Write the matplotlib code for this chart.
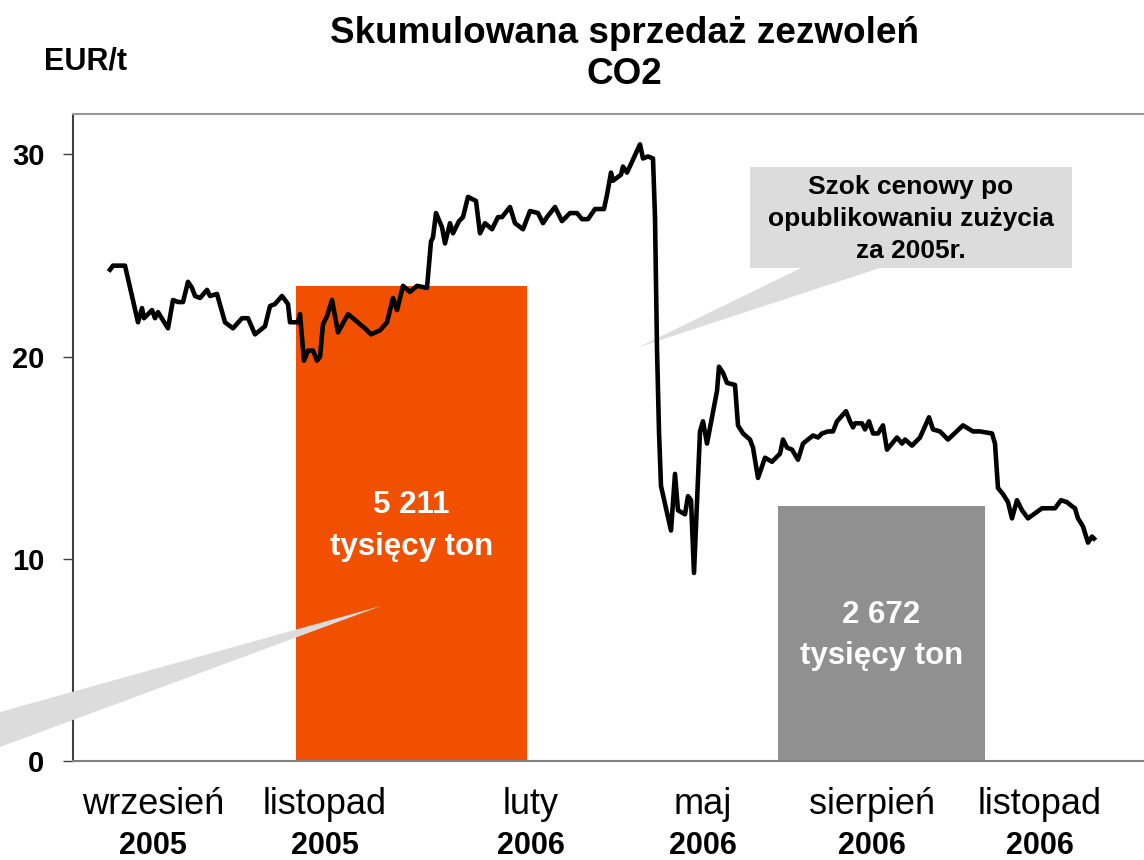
import matplotlib
matplotlib.use("Agg")
import matplotlib.pyplot as plt
from matplotlib.patches import Polygon, Rectangle
from matplotlib.transforms import blended_transform_factory

plt.rcParams['font.family'] = ['Liberation Sans', 'DejaVu Sans']

# Cena uprawnien EUR/t (os x: kolejne notowania, skala umowna)
dzien = [3.7, 4.0, 4.9, 5.2, 6.5, 6.9, 7.1, 7.9, 8.2, 8.5,
         9.5, 10.0, 10.5, 11.0, 11.5, 11.9, 12.2, 12.7, 13.4, 13.7,
         14.4, 15.2, 16.0, 16.9, 17.5, 18.2, 19.2, 19.7, 20.2, 20.9,
         21.5, 21.7, 22.5, 22.7, 23.1, 23.5, 24.0, 24.4, 24.7, 25.0,
         25.4, 25.9, 26.5, 27.5, 28.0, 28.7, 29.2, 29.8, 30.7, 31.4,
         32.0, 32.4, 33.0, 33.7, 34.4, 35.4, 35.8, 36.0, 36.3, 36.9,
         37.2, 37.7, 38.0, 38.6, 39.0, 39.5, 40.3, 40.7, 41.2, 41.9,
         42.5, 42.9, 43.7, 44.2, 45.0, 45.7, 46.5, 47.0, 47.4, 48.2,
         48.9, 49.7, 50.4, 50.9, 51.5, 52.2, 53.1, 53.4, 53.8, 54.0,
         54.8, 55.0, 55.4, 56.7, 57.0, 57.5, 58.0, 58.2, 58.4, 58.6,
         58.8, 59.8, 60.2, 60.5, 61.2, 61.5, 61.8, 62.1, 62.7, 63.0,
         63.4, 64.4, 64.6, 65.0, 65.4, 66.2, 66.5, 67.0, 67.7, 68.0,
         68.5, 69.2, 69.9, 70.7, 71.0, 71.4, 71.9, 72.5, 73.0, 74.0,
         74.5, 74.9, 75.5, 76.0, 76.4, 77.3, 77.7, 78.0, 78.2, 78.9,
         79.2, 79.6, 80.0, 80.5, 81.0, 81.4, 82.4, 82.9, 83.2, 83.9,
         84.7, 85.6, 86.0, 86.7, 87.5, 89.0, 90.0, 90.7, 91.9, 92.2,
         92.5, 93.0, 93.5, 93.9, 94.4, 94.9, 95.5, 96.9, 98.2, 98.8,
         99.4, 99.9, 100.2, 100.5, 101.0, 101.5, 101.9, 102.1]
cena = [24.3, 24.5, 24.5, 24.5, 21.7, 22.4, 21.9, 22.3, 21.9, 22.2,
        21.4, 22.8, 22.7, 22.7, 23.7, 23.4, 23.0, 22.9, 23.3, 23.0,
        23.1, 21.7, 21.4, 21.9, 21.9, 21.1, 21.5, 22.5, 22.6, 23.0,
        22.6, 21.7, 21.7, 22.1, 19.8, 20.3, 20.3, 19.8, 20.0, 21.6,
        22.0, 22.8, 21.2, 22.1, 21.9, 21.6, 21.4, 21.1, 21.3, 21.7,
        22.9, 22.3, 23.5, 23.2, 23.5, 23.4, 25.7, 25.9, 27.1, 26.4,
        25.6, 26.6, 26.1, 26.7, 26.9, 27.9, 27.7, 26.1, 26.6, 26.3,
        26.9, 26.9, 27.4, 26.6, 26.3, 27.2, 27.1, 26.6, 26.9, 27.4,
        26.7, 27.1, 27.1, 26.8, 26.8, 27.3, 27.3, 28.0, 29.1, 28.7,
        29.0, 29.4, 29.1, 30.5, 29.8, 29.9, 29.8, 26.9, 20.4, 16.3,
        13.6, 11.4, 14.2, 12.4, 12.2, 13.1, 12.9, 9.3, 16.3, 16.8,
        15.7, 18.3, 19.5, 19.2, 18.7, 18.6, 16.6, 16.2, 15.9, 15.5,
        14.0, 15.0, 14.8, 15.2, 15.9, 15.5, 15.4, 14.9, 15.7, 16.1,
        16.0, 16.2, 16.3, 16.3, 16.8, 17.3, 16.8, 16.5, 16.7, 16.7,
        16.4, 16.8, 16.2, 16.2, 16.6, 15.4, 16.0, 15.7, 15.9, 15.6,
        16.0, 17.0, 16.4, 16.3, 15.9, 16.6, 16.3, 16.3, 16.2, 15.7,
        13.5, 13.2, 12.8, 12.0, 12.9, 12.4, 12.0, 12.5, 12.5, 12.9,
        12.8, 12.6, 12.5, 12.0, 11.6, 10.8, 11.1, 11.0]

# Sprzedaz skumulowana (slupki)
slupki_x = [22.3, 70.5]
slupki_szer = [23.1, 20.7]
slupki_wys = [23.5, 12.6]
slupki_kolor = ['#F05000', '#909090']
slupki_opis = ['5 211\ntysięcy ton', '2 672\ntysięcy ton']
slupki_opis_y = [11.63, 6.2]

# Etykiety osi x
miesiace = ['wrzesień', 'listopad', 'luty', 'maj', 'sierpień', 'listopad']
lata = ['2005', '2005', '2006', '2006', '2006', '2006']
etykiety_x = [8.0, 25.2, 45.8, 63.0, 79.9, 96.7]

W, H = 1144, 860
fig = plt.figure(figsize=(W / 100, H / 100), dpi=100)
ax = fig.add_axes([73 / W, 1 - 761 / H, 1 - 73 / W, (761 - 114) / H])


def px(x, y):
    return (x / W, 1 - y / H)


for x0, w, h, c in zip(slupki_x, slupki_szer, slupki_wys, slupki_kolor):
    ax.bar(x0, h, width=w, align='edge', color=c, zorder=1)
for x0, w, t, y in zip(slupki_x, slupki_szer, slupki_opis, slupki_opis_y):
    ax.text(x0 + w / 2, y, t, ha='center', va='center', color='white',
            fontsize=22.5, fontweight='bold', linespacing=1.5, zorder=4)

ax.plot(dzien, cena, color='black', lw=3.3, solid_joinstyle='round', zorder=3)

# Dymki
szary = '#DCDCDC'
ax.add_patch(Polygon([px(803, 267), px(883, 267), px(639, 347)], closed=True,
                     transform=fig.transFigure, color=szary, lw=0,
                     clip_on=False, zorder=2))
ax.add_patch(Rectangle(px(750, 268), 322 / W, 101 / H, transform=fig.transFigure,
                       color=szary, lw=0, clip_on=False, zorder=2))
fig.text(911 / W, 1 - 219 / H, 'Szok cenowy po\nopublikowaniu zużycia\nza 2005r.',
         ha='center', va='center', fontsize=19, fontweight='bold', linespacing=1.4)
ax.add_patch(Polygon([px(0, 712), px(381, 606), px(0, 747)], closed=True,
                     transform=fig.transFigure, color=szary, lw=0,
                     clip_on=False, zorder=5))

ax.set_xlim(0, 107.1)
ax.set_ylim(0, 32)
ax.set_yticks([0, 10, 20, 30])
ax.set_xticks([])
ax.tick_params(axis='y', direction='out', length=7.5, width=1, color='#404040',
               pad=13, labelsize=21)
for lab in ax.get_yticklabels():
    lab.set_fontweight('bold')
ax.spines['right'].set_visible(False)
ax.spines['left'].set_color('#404040')
ax.spines['bottom'].set_color('#808080')
ax.spines['top'].set_color('#999999')
for s in ['left', 'bottom', 'top']:
    ax.spines[s].set_linewidth(1.5)

tr = blended_transform_factory(ax.transData, fig.transFigure)
for x, m, r in zip(etykiety_x, miesiace, lata):
    ax.text(x, 1 - 805 / H, m, transform=tr, ha='center', va='center', fontsize=26)
    ax.text(x, 1 - 846 / H, r, transform=tr, ha='center', va='center',
            fontsize=22, fontweight='bold')

fig.text(624 / W, 1 - 54 / H, 'Skumulowana sprzedaż zezwoleń\nCO2', ha='center',
         va='center', fontsize=26.6, fontweight='bold', linespacing=1.22)
fig.text(86 / W, 1 - 62 / H, 'EUR/t', ha='center', va='center', fontsize=22,
         fontweight='bold')

fig.savefig('out.png', dpi=100)
